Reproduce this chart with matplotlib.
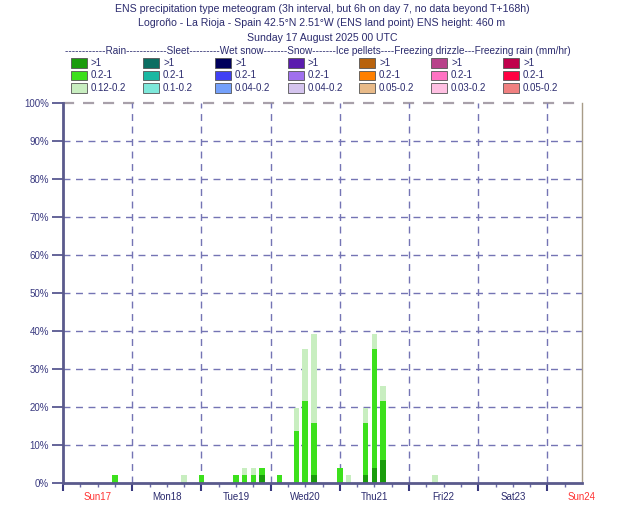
import matplotlib
matplotlib.use("Agg")
import matplotlib.pyplot as plt
from matplotlib.patches import Rectangle
from matplotlib.transforms import blended_transform_factory

plt.rcParams["font.family"] = ["Liberation Sans", "DejaVu Sans"]

NAVY = "#2b2b6e"
GRID = "#7474b4"

# forecast steps (hours from Sun 17 00 UTC) and rain probabilities (% of members)
steps = [18, 42, 48, 60, 63, 66, 69, 75, 81, 84, 87, 96, 99, 105, 108, 111, 129]
rain_heavy = [0, 0, 0, 0, 0, 0, 2.0, 0, 0, 0, 2.0, 0, 0, 2.0, 3.9, 5.9, 0]
rain_moderate = [2.0, 0, 2.0, 2.0, 2.0, 2.0, 2.0, 2.0, 13.7, 21.6, 13.7, 3.9, 0, 13.7, 31.4, 15.7, 0]
rain_light = [0, 2.0, 0, 0, 2.0, 2.0, 0, 0, 5.9, 13.7, 23.5, 0, 2.0, 3.9, 3.9, 3.9, 2.0]

day_labels = ["Sun17", "Mon18", "Tue19", "Wed20", "Thu21", "Fri22", "Sat23", "Sun24"]
day_colors = ["#ff3333", NAVY, NAVY, NAVY, NAVY, NAVY, NAVY, "#ff3333"]

legend_colors = [
    ["#1a9c0c", "#3ce01c", "#c8eec0"],
    ["#0b6e62", "#1ab8a2", "#7ee8da"],
    ["#00005c", "#4040f4", "#74a0fa"],
    ["#5a1cae", "#a070ee", "#d4c4ee"],
    ["#b8620c", "#ff8000", "#e8ba88"],
    ["#b8428a", "#ff72c2", "#ffc0e2"],
    ["#c0004c", "#ff0042", "#f08080"],
]
legend_ranges = ["0.12-0.2", "0.1-0.2", "0.04-0.2", "0.04-0.2",
                 "0.05-0.2", "0.03-0.2", "0.05-0.2"]

W, H = 630, 525
fig = plt.figure(figsize=(W / 100, H / 100), dpi=100)

# titles
titles = [
    "ENS precipitation type meteogram (3h interval, but 6h on day 7, no data beyond T+168h)",
    "Logroño - La Rioja - Spain 42.5°N 2.51°W (ENS land point) ENS height: 460 m",
    "Sunday 17 August 2025 00 UTC",
]
for i, t in enumerate(titles):
    fig.text(322 / W, 1 - (9 + 14.5 * i) / H, t, ha="center", va="center",
             fontsize=7.6, color=NAVY)

header = ("------------Rain------------Sleet---------Wet snow-------Snow-------"
          "Ice pellets----Freezing drizzle---Freezing rain (mm/hr)")
fig.text(318 / W, 1 - 51.5 / H, header, ha="center", va="center", fontsize=7.2, color=NAVY)

# legend swatches
col_x = [71, 143, 215, 288, 359, 431, 503]
row_y = [63, 75.5, 88]
for j, x0 in enumerate(col_x):
    labels = [">1", "0.2-1", legend_ranges[j]]
    for k, y0 in enumerate(row_y):
        fig.patches.append(Rectangle((x0 / W, 1 - (y0 + 4.6) / H), 16 / W, 9.3 / H,
                                     transform=fig.transFigure, facecolor=legend_colors[j][k],
                                     edgecolor="#555555", linewidth=0.6))
        fig.text((x0 + 20) / W, 1 - y0 / H, labels[k], ha="left", va="center",
                 fontsize=7, color=NAVY)

# main axes
left, right, top, bottom = 63, 582, 103, 482.7
ax = fig.add_axes([left / W, 1 - bottom / H, (right - left) / W, (bottom - top) / H])
ax.set_xlim(0, 180)
ax.set_ylim(0, 100)

width = 1.9
ax.bar(steps, rain_heavy, width=width, color=legend_colors[0][0], zorder=3)
ax.bar(steps, rain_moderate, width=width, bottom=rain_heavy, color=legend_colors[0][1], zorder=3)
base2 = [a + b for a, b in zip(rain_heavy, rain_moderate)]
ax.bar(steps, rain_light, width=width, bottom=base2, color=legend_colors[0][2], zorder=3)

# grid
for y in range(10, 100, 10):
    ax.axhline(y, color=GRID, lw=1, dashes=(5, 4), zorder=1)
ax.axhline(100, color="#a8a0aa", lw=1.6, dashes=(5, 4), zorder=1, clip_on=False)
for d in range(24, 180, 24):
    ax.axvline(d, color=GRID, lw=1, dashes=(5, 4), zorder=1)

ax.spines["top"].set_visible(False)
ax.spines["right"].set_color("#a89c88")
ax.spines["right"].set_linewidth(1)
ax.spines["left"].set_color("#5a5a8c")
ax.spines["left"].set_linewidth(2)
ax.spines["bottom"].set_color("#5a5a8c")
ax.spines["bottom"].set_linewidth(2)
ax.spines["bottom"].set_zorder(4)

ax.set_yticks(range(0, 101, 10))
ax.set_yticklabels([f"{v}%" for v in range(0, 101, 10)], fontsize=7, color="#3a3a80")
ax.tick_params(axis="y", length=8, width=1.2, color="#4a4a88", pad=2)

ax.set_xticks(range(0, 181, 24))
ax.set_xticklabels([])
ax.set_xticks(range(6, 180, 6), minor=True)
ax.tick_params(axis="x", which="major", length=6, width=1.5, color="#3a3a80")
ax.tick_params(axis="x", which="minor", length=3, width=1, color="#6a6aa8")

tr = blended_transform_factory(ax.transData, ax.transAxes)
for i, (lab, c) in enumerate(zip(day_labels, day_colors)):
    ax.text(12 + 24 * i, -14 / (bottom - top), lab, transform=tr, ha="center",
            va="center", fontsize=7, color=c, clip_on=False)

fig.savefig("out.png", dpi=100)
